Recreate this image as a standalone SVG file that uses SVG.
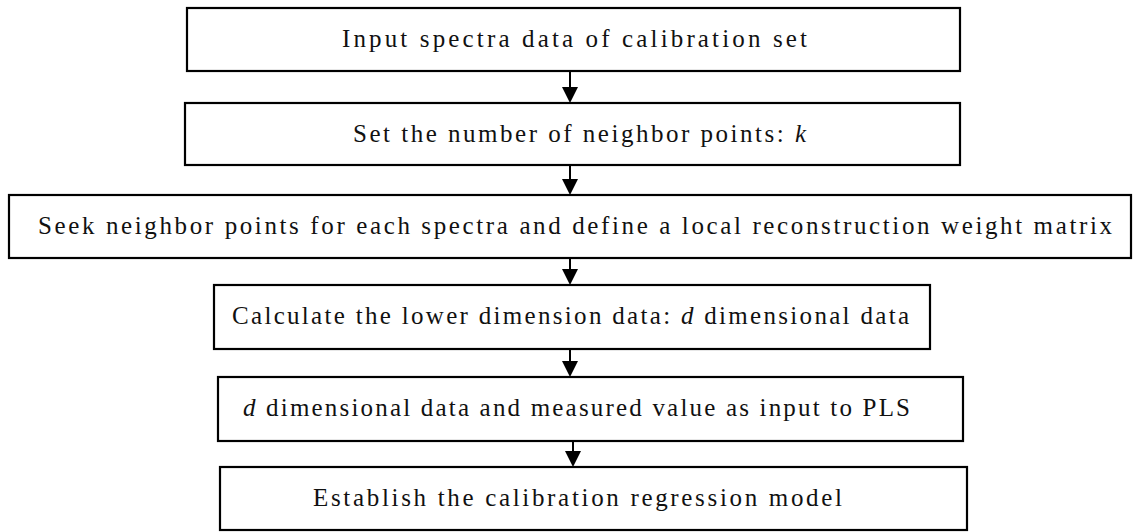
<svg xmlns="http://www.w3.org/2000/svg" width="1134" height="532" viewBox="0 0 1134 532">
<defs>
<style>
.box{fill:#fff;stroke:#000;stroke-width:2.2}
.t{font-family:"Liberation Serif","Times New Roman",serif;font-size:25px;fill:#111}
.it{font-style:italic}
.ln{stroke:#000;stroke-width:2}
.hd{fill:#000}
</style>
</defs>
<rect width="1134" height="532" fill="#fff"/>
<g id="connectors">
<line class="ln" x1="570" y1="72" x2="570" y2="91"/><polygon class="hd" points="562,87 578,87 570,103"/>
<line class="ln" x1="570" y1="165" x2="570" y2="183"/><polygon class="hd" points="562,179 578,179 570,195"/>
<line class="ln" x1="570" y1="258" x2="570" y2="273"/><polygon class="hd" points="562,269 578,269 570,285"/>
<line class="ln" x1="570" y1="349" x2="570" y2="365"/><polygon class="hd" points="562,361 578,361 570,377"/>
<line class="ln" x1="573" y1="441" x2="573" y2="455"/><polygon class="hd" points="565,451 581,451 573,467"/>
</g>
<g id="n1"><rect class="box" x="187" y="8" width="773" height="63"/><text class="t" x="342" y="47" textLength="465" lengthAdjust="spacing">Input spectra data of calibration set</text></g>
<g id="n2"><rect class="box" x="185" y="103" width="775" height="62"/><text class="t" x="353" y="142" textLength="453" lengthAdjust="spacing">Set the number of neighbor points: <tspan class="it">k</tspan></text></g>
<g id="n3"><rect class="box" x="9" y="195" width="1122" height="63"/><text class="t" x="38" y="234" textLength="1074" lengthAdjust="spacing">Seek neighbor points for each spectra and define a local reconstruction weight matrix</text></g>
<g id="n4"><rect class="box" x="214" y="285" width="716" height="64"/><text class="t" x="232" y="324" textLength="677" lengthAdjust="spacing">Calculate the lower dimension data: <tspan class="it">d</tspan> dimensional data</text></g>
<g id="n5"><rect class="box" x="218" y="377" width="745" height="64"/><text class="t" x="243" y="416" textLength="667" lengthAdjust="spacing"><tspan class="it">d</tspan> dimensional data and measured value as input to PLS</text></g>
<g id="n6"><rect class="box" x="220" y="467" width="747" height="63"/><text class="t" x="313" y="506" textLength="529" lengthAdjust="spacing">Establish the calibration regression model</text></g>
</svg>
